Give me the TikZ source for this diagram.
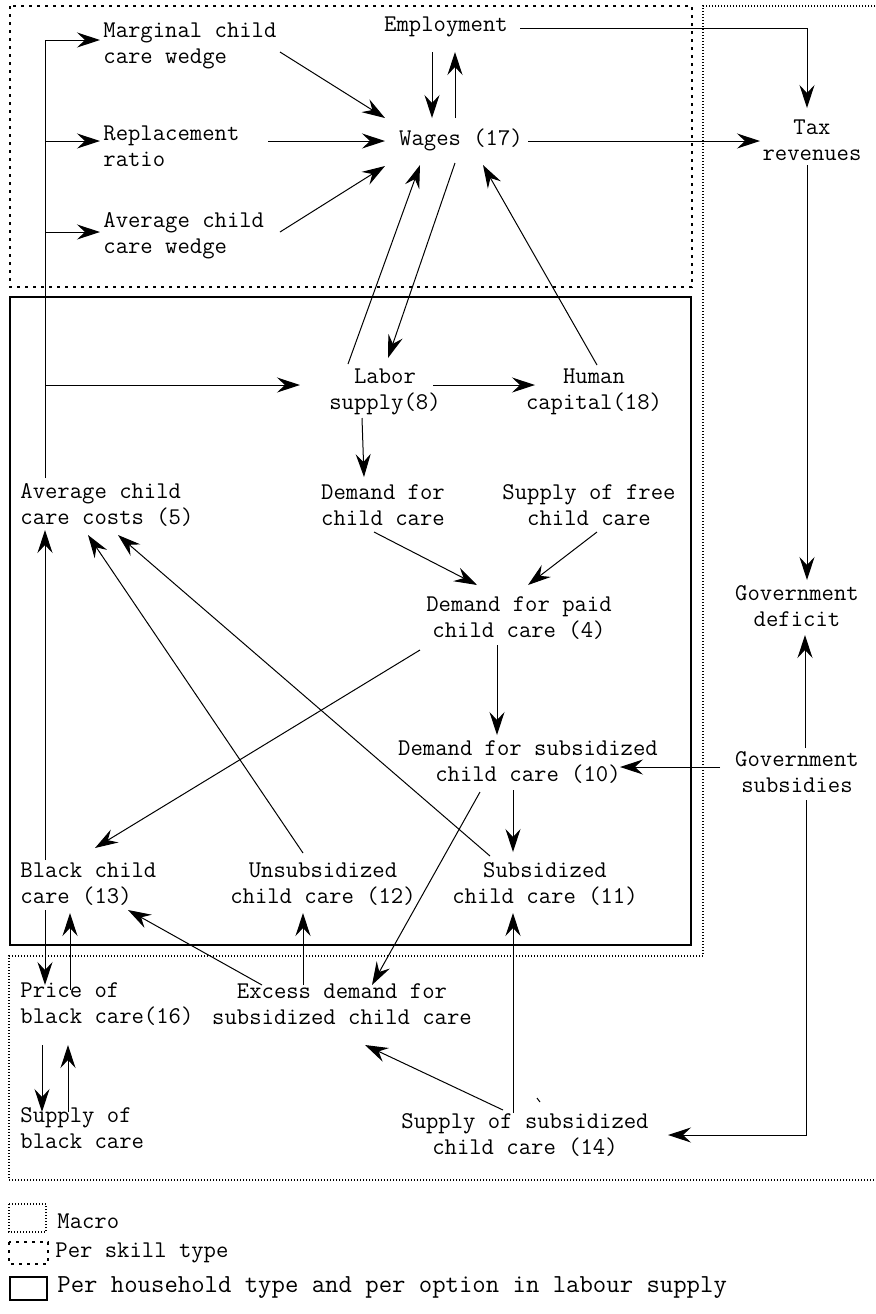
\documentclass[tikz,border=0pt]{standalone}
\usetikzlibrary{arrows.meta,calc}
\begin{document}
\begin{tikzpicture}[x=0.5pt,y=-0.5pt,
  lbl/.style={font=\fontsize{12}{13}\selectfont\ttfamily, inner sep=0pt, align=center},
  lbll/.style={lbl, align=left, anchor=west},
  arr/.style={line width=0.5pt, -{Stealth[length=11.5pt,width=7.5pt,inset=4pt]}},
  ln/.style={line width=0.5pt},
  macro/.style={line width=0.6pt, dash pattern=on 0.5pt off 1pt},
  skill/.style={line width=1.2pt, dash pattern=on 1.5pt off 2.5pt},
  house/.style={line width=1.2pt}]
\useasboundingbox (0,0) rectangle (875,1314);
% region frames
\draw[skill] (10,6) rectangle (692,287);
\draw[house] (10,297) rectangle (691,945);
\draw[macro] (875,6) -- (703,6) -- (703,956) -- (9,956) -- (9,1180) -- (875,1180);
% nodes
\node[lbll] (mcw) at (103,46) {Marginal child\\care wedge};
\node[lbll] (rr) at (103,146) {Replacement\\ratio};
\node[lbll] (acw) at (103,236) {Average child\\care wedge};
\node[lbl] (emp) at (446,27) {Employment};
\node[lbl] (wag) at (461,140) {Wages (17)};
\node[lbl] (tax) at (812,140) {Tax\\revenues};
\node[lbl] (lab) at (385,392) {Labor\\supply(8)};
\node[lbl] (hum) at (594,392) {Human\\capital(18)};
\node[lbll] (acc) at (20,505) {Average child\\care costs (5)};
\node[lbl] (dcc) at (383,505) {Demand for\\child care};
\node[lbl] (sfc) at (589,505) {Supply of free\\child care};
\node[lbl] (dpc) at (519,618) {Demand for paid\\child care (4)};
\node[lbl] (gdef) at (797,606) {Government\\deficit};
\node[lbl] (dsc) at (528,762) {Demand for subsidized\\child care (10)};
\node[lbl] (gsub) at (797,772) {Government\\subsidies};
\node[lbll] (bcc) at (20,884) {Black child\\care (13)};
\node[lbl] (ucc) at (323,884) {Unsubsidized\\child care (12)};
\node[lbl] (scc) at (545,884) {Subsidized\\child care (11)};
\node[lbll] (pbc) at (20,1004) {Price of\\black care(16)};
\node[lbl] (exd) at (342,1004) {Excess demand for\\subsidized child care};
\node[lbll] (sbc) at (20,1128) {Supply of\\black care};
\node[lbl] (ssc) at (525,1135) {Supply of subsidized\\child care (14)};
% stray mark
\draw[ln] ($(ssc)+(12,-37)$) -- ($(ssc)+(15,-33)$);
% left feeder line
\coordinate (ltop) at ($(mcw.west)+(-58,-6)$);
\coordinate (rrin) at ($(rr.west)+(-3,-5)$);
\coordinate (acwin) at ($(acw.west)+(-3,-4)$);
\coordinate (labin) at ($(lab)+(-85,-7)$);
\draw[ln] ($(acc.west)+(25,-27)$) -- (ltop);
\draw[arr] (ltop) -- ($(mcw.west)+(-3,-6)$);
\draw[arr] (ltop |- rrin) -- (rrin);
\draw[arr] (ltop |- acwin) -- (acwin);
\draw[arr] (ltop |- labin) -- (labin);
% top block
\draw[arr] ($(mcw.west)+(177,6)$) -- ($(wag)+(-76,-22)$);
\draw[arr] ($(rr.west)+(165,-5)$) -- ($(wag)+(-76,1)$);
\draw[arr] ($(acw.west)+(177,-4)$) -- ($(wag)+(-76,26)$);
\draw[arr] ($(emp)+(-14,25)$) -- ($(wag)+(-29,-22)$);
\draw[arr] ($(wag)+(-6,-22)$) -- ($(emp)+(9,25)$);
\draw[arr] ($(emp)+(74,1)$) -| ($(tax)+(-5,-32)$);
\draw[arr] ($(wag)+(67,1)$) -- ($(tax)+(-52,1)$);
\draw[arr] ($(lab)+(-37,-28)$) -- ($(wag)+(-41,25)$);
\draw[arr] ($(wag)+(-6,23)$) -- ($(lab)+(3,-34)$);
\draw[arr] ($(hum)+(3,-27)$) -- ($(wag)+(22,25)$);
\draw[arr] ($(lab)+(48,-7)$) -- ($(hum)+(-59,-7)$);
% household block
\draw[arr] ($(lab)+(-23,26)$) -- ($(dcc)+(-19,-28)$);
\draw[arr] ($(dcc)+(-9,27)$) -- ($(dpc)+(-42,-33)$);
\draw[arr] ($(sfc)+(8,27)$) -- ($(dpc)+(9,-33)$);
\draw[arr] ($(dpc)+(-99,32)$) -- ($(bcc.west)+(75,-36)$);
\draw[arr] ($(dpc)+(-22,27)$) -- ($(dsc)+(-31,-27)$);
\draw[arr] ($(gsub)+(-77,-5)$) -- ($(dsc)+(92,5)$);
\draw[arr] ($(dsc)+(-15,28)$) -- ($(scc)+(-32,-32)$);
\draw[arr] ($(dsc)+(-48,30)$) -- ($(exd)+(30,-19)$);
\draw[arr] ($(bcc.west)+(25,-24)$) -- ($(acc.west)+(25,25)$);
\draw[arr] ($(ucc)+(-20,-31)$) -- ($(acc.west)+(68,30)$);
\draw[arr] ($(scc)+(-55,-28)$) -- ($(acc.west)+(98,30)$);
% lower block
\draw[arr] ($(exd)+(-80,-19)$) -- ($(bcc.west)+(108,26)$);
\draw[arr] ($(exd)+(-39,-19)$) -- ($(ucc)+(-20,29)$);
\draw[arr] ($(ssc)+(-12,-22)$) -- ($(scc)+(-32,29)$);
\draw[arr] ($(ssc)+(-22,-25)$) -- ($(exd)+(23,41)$);
\draw[arr] ($(bcc.west)+(25,26)$) -- ($(pbc.west)+(25,-19)$);
\draw[arr] ($(pbc.west)+(50,-14)$) -- ($(bcc.west)+(50,29)$);
\draw[arr] ($(pbc.west)+(22,41)$) -- ($(sbc.west)+(22,-16)$);
\draw[arr] ($(sbc.west)+(48,-16)$) -- ($(pbc.west)+(48,41)$);
% macro block
\draw[arr] ($(tax)+(-5,25)$) -- ($(gdef)+(10,-26)$);
\draw[arr] ($(gsub)+(8,-24)$) -- ($(gdef)+(8,29)$);
\draw[arr] ($(gsub)+(9,28)$) |- ($(ssc)+(143,0)$);
% legend
\draw[macro] (9,1204) rectangle (46,1232);
\node[lbll] (lmac) at (57,1221) {Macro};
\draw[skill] (9,1242) rectangle (48,1264);
\node[lbll] (lski) at (55,1253) {Per skill type};
\draw[house] (10,1277) rectangle (47,1300);
\node[lbll, font=\fontsize{13}{14}\selectfont\ttfamily] (lhou) at (57,1288) {Per household type and per option in labour supply};
\end{tikzpicture}
\end{document}
